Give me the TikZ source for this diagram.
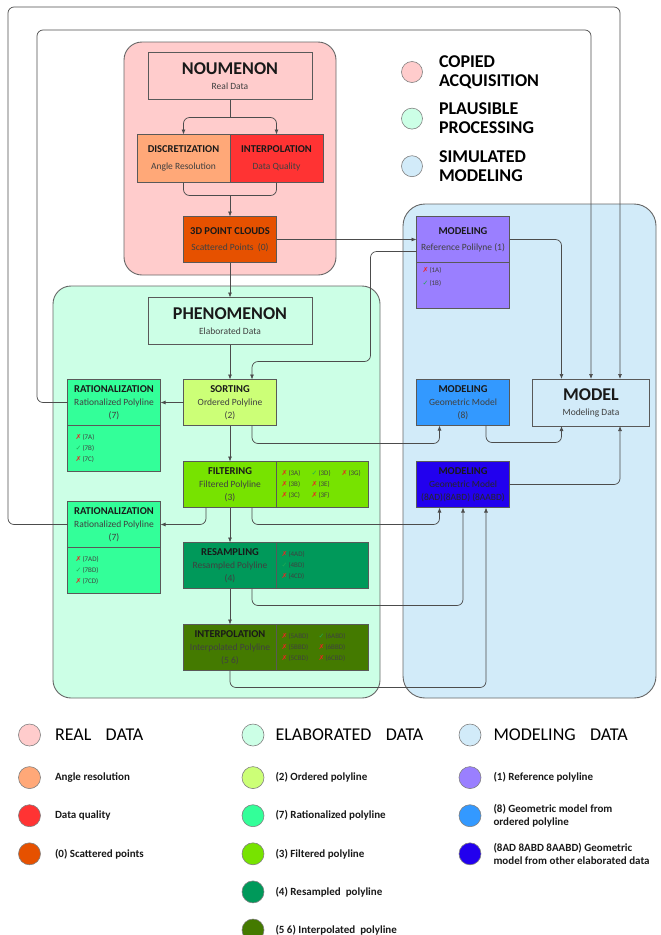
\documentclass[tikz,border=0pt]{standalone}
\usepackage{fontspec}
\setmainfont{Carlito}
\newfontfamily\symfont{DejaVu Sans}
\usepackage{tikz}
\usetikzlibrary{arrows.meta,positioning,calc}

\definecolor{realpink}{HTML}{FFCCCC}
\definecolor{elabmint}{HTML}{CCFFE6}
\definecolor{modblue}{HTML}{D2EBF9}
\definecolor{angleorange}{HTML}{FFA878}
\definecolor{qualityred}{HTML}{FF3333}
\definecolor{scatterorange}{HTML}{E65100}
\definecolor{ordergreen}{HTML}{CCFF77}
\definecolor{ratgreen}{HTML}{33FF99}
\definecolor{filtgreen}{HTML}{77E300}
\definecolor{resampgreen}{HTML}{00995A}
\definecolor{interpgreen}{HTML}{447A00}
\definecolor{refpurple}{HTML}{9A7FFF}
\definecolor{geoblue}{HTML}{3399FF}
\definecolor{otherblue}{HTML}{2200EE}
\definecolor{xred}{HTML}{EE2222}
\definecolor{ckgreen}{HTML}{22AA55}

\newcommand\ttl[1]{{\fontsize{10.5}{13}\selectfont\bfseries\color{black!90}#1}}
\newcommand\bigttl[1]{{\fontsize{18}{20}\selectfont\bfseries\color{black!90}#1}}
\newcommand\nok[1]{{\color{xred}\symfont\bfseries ✗}\,(#1)}
\newcommand\yes[1]{{\color{ckgreen}\symfont\bfseries ✓}\,(#1)}
\newcommand\cell[2][30pt]{\makebox[#1][l]{#2}}

\tikzset{
  zone/.style    ={draw=black!60,line width=0.9pt,rounded corners=18pt},
  stepbox/.style ={draw=black!65,line width=0.7pt,align=center,inner sep=0pt,outer sep=0pt,
                   minimum width=93pt,minimum height=46pt,font=\fontsize{9.5}{13}\selectfont,text=black!75},
  bigbox/.style  ={stepbox,minimum width=164pt,minimum height=47pt},
  listbox/.style ={draw=black!65,line width=0.7pt,align=left,inner sep=0pt,outer sep=0pt,
                   minimum height=46pt,font=\fontsize{7}{11}\selectfont,text=black!75},
  line/.style    ={draw=black!70,line width=0.7pt,rounded corners=6pt},
  arrow/.style   ={line,-{Latex[length=5pt,width=4pt]}},
  keydot/.style  ={circle,draw=black!50,line width=0.6pt,minimum size=21pt,inner sep=0pt},
  keyhead/.style ={inner sep=0pt,align=left,font=\fontsize{18}{19}\selectfont,text=black},
  keyitem/.style ={inner sep=0pt,align=left,font=\fontsize{11}{12.5}\selectfont\bfseries,text=black!90}
}

\begin{document}
\begin{tikzpicture}[x=1pt,y=-1pt]
  \useasboundingbox (0,0) rectangle (661,935);
  \node[zone,fill=realpink,minimum width=212pt,minimum height=233pt] (acqzone) at (230,158.5) {};
  \node[zone,fill=elabmint,minimum width=327pt,minimum height=412pt] (proczone) at (216.5,492) {};
  \node[zone,fill=modblue,minimum width=253pt,minimum height=494pt,rounded corners=22pt] (simzone) at (529.5,451) {};

  \node[bigbox,fill=realpink] (noumenon) at (230,76) {\bigttl{NOUMENON}\\[2pt]Real Data};
  \node[stepbox,fill=angleorange,minimum height=48pt,below left=35pt and 0pt of noumenon.south] (discret) {\ttl{DISCRETIZATION}\\[4pt]Angle Resolution};
  \node[stepbox,fill=qualityred,minimum height=48pt,right=0pt of discret] (interpA) {\ttl{INTERPOLATION}\\[4pt]Data Quality};
  \node[stepbox,fill=scatterorange,below=34pt of discret.south east] (clouds) {\ttl{3D POINT CLOUDS}\\[3pt]Scattered Points\ \ (0)};
  \node[bigbox,fill=elabmint,below=35pt of clouds] (phenom) {\bigttl{PHENOMENON}\\[2pt]Elaborated Data};
  \node[stepbox,fill=ordergreen,below=35pt of phenom] (sorting) {\ttl{SORTING}\\Ordered Polyline\\(2)};
  \node[stepbox,fill=ratgreen,left=23pt of sorting] (rationA) {\ttl{RATIONALIZATION}\\Rationalized Polyline\\(7)};
  \node[listbox,fill=ratgreen,minimum width=93pt,text width=77pt,below=0pt of rationA] (rationAlist) {\nok{7A}\\\yes{7B}\\\nok{7C}};
  \node[stepbox,fill=filtgreen,below=36pt of sorting] (filtering) {\ttl{FILTERING}\\Filtered Polyline\\(3)};
  \node[listbox,fill=filtgreen,minimum width=92pt,text width=82pt,right=0pt of filtering] (filtlist)
    {\cell{\nok{3A}}\cell{\yes{3D}}\nok{3G}\\\cell{\nok{3B}}\nok{3E}\\\cell{\nok{3C}}\nok{3F}};
  \node[stepbox,fill=ratgreen,below=30pt of rationAlist] (rationB) {\ttl{RATIONALIZATION}\\Rationalized Polyline\\(7)};
  \node[listbox,fill=ratgreen,minimum width=93pt,text width=77pt,below=0pt of rationB] (rationBlist) {\nok{7AD}\\\yes{7BD}\\\nok{7CD}};
  \node[stepbox,fill=resampgreen,below=35pt of filtering] (resampling) {\ttl{RESAMPLING}\\Resampled Polyline\\(4)};
  \node[listbox,fill=resampgreen,minimum width=92pt,text width=82pt,right=0pt of resampling] (resamplist) {\nok{4AD}\\\yes{4BD}\\\nok{4CD}};
  \node[stepbox,fill=interpgreen,below=36pt of resampling] (interpB) {\ttl{INTERPOLATION}\\Interpolated Polyline\\(5 6)};
  \node[listbox,fill=interpgreen,minimum width=92pt,text width=82pt,right=0pt of interpB] (interplist)
    {\cell[37pt]{\nok{5ABD}}\yes{6ABD}\\\cell[37pt]{\nok{5BBD}}\nok{6BBD}\\\cell[37pt]{\nok{5CBD}}\nok{6CBD}};

  \node[stepbox,fill=refpurple,right=140pt of clouds] (modref) {\ttl{MODELING}\\[3pt]Reference Polilyne (1)};
  \node[listbox,fill=refpurple,minimum width=93pt,below=0pt of modref] (modreflist) {\parbox[c][36pt][t]{81pt}{\nok{1A}\\[2pt]\yes{1B}}};
  \node[stepbox,fill=geoblue,right=140pt of sorting] (modgeo) {\ttl{MODELING}\\Geometric Model\\(8)};
  \node[stepbox,fill=otherblue,right=140pt of filtering,text=black!85] (modother) {\ttl{MODELING}\\Geometric Model\\(8AD)(8ABD) (8AABD)};
  \node[stepbox,fill=modblue,minimum width=117pt,minimum height=47pt,right=23pt of modgeo] (model) {\bigttl{MODEL}\\[2pt]Modeling Data};

  \coordinate (split) at ($(noumenon.south)+(0,18)$);
  \coordinate (ujoin) at ($(discret.south)!0.5!(interpA.south)+(0,13)$);
  \draw[line] (noumenon.south) -- (split);
  \draw[arrow] (split) -| (discret.north);
  \draw[arrow] (split) -| (interpA.north);
  \draw[line] (discret.south) |- (ujoin) -| (interpA.south);
  \draw[arrow] (ujoin) -- (clouds.north);
  \draw[arrow] (clouds.east) -- (clouds.east -| modref.west);
  \draw[arrow] (clouds) -- (phenom);
  \draw[arrow] (phenom) -- (sorting);
  \draw[arrow] ([yshift=-12pt]modref.west) -- ++(-46,0) |- ($(sorting.north)+(22,-18)$) -- ([xshift=22pt]sorting.north);
  \draw[arrow] (modref.east) -| ([xshift=-29.5pt]model.north);
  \draw[arrow] (sorting) -- (rationA);
  \draw[arrow] (rationA.west) -| (37,30) -| (model.north);
  \draw[arrow] (rationB.west) -| (8,7) -| ([xshift=29pt]model.north);
  \draw[arrow] (sorting) -- (filtering);
  \draw[arrow] ([xshift=22pt]sorting.south) -- ++(0,18) -| ([xshift=-23.5pt]modgeo.south);
  \draw[arrow] ([xshift=23pt]modgeo.south) -- ++(0,17) -| ([xshift=-29.5pt]model.south);
  \draw[arrow] ([xshift=-24pt]filtering.south) |- (rationB.east);
  \draw[arrow] ([xshift=22pt]filtering.south) -- ++(0,17) -| ([xshift=-23.5pt]modother.south);
  \draw[arrow] (filtering) -- (resampling);
  \draw[arrow] ([xshift=22pt]resampling.south) -- ++(0,17) -| (modother.south);
  \draw[arrow] (resampling) -- (interpB);
  \draw[arrow] (interpB.south) -- ++(0,17) -| ([xshift=23pt]modother.south);
  \draw[arrow] (modother.east) -| ([xshift=29pt]model.south);

  \node[keydot,fill=realpink] (keyacq) at (412,72) {};
  \node[keydot,fill=elabmint,below=25pt of keyacq] (keyproc) {};
  \node[keydot,fill=modblue,below=26pt of keyproc] (keysim) {};
  \node[keyhead,font=\fontsize{18}{19}\selectfont\bfseries,right=16pt of keyacq] (txtacq) {COPIED\\ACQUISITION};
  \node[keyhead,font=\fontsize{18}{19}\selectfont\bfseries,right=16pt of keyproc] (txtproc) {PLAUSIBLE\\PROCESSING};
  \node[keyhead,font=\fontsize{18}{19}\selectfont\bfseries,right=16pt of keysim] (txtsim) {SIMULATED\\MODELING};

  \node[keydot,minimum size=22pt,fill=realpink] (keyreal) at (29.5,735) {};
  \node[keydot,minimum size=22pt,fill=angleorange,below=20pt of keyreal] (keyangle) {};
  \node[keydot,minimum size=22pt,fill=qualityred,below=15.5pt of keyangle] (keyquality) {};
  \node[keydot,minimum size=22pt,fill=scatterorange,below=15.5pt of keyquality] (keyscatter) {};
  \node[keyhead,right=14pt of keyreal] (txtreal) {REAL\hspace{0.8em}DATA};
  \node[keyitem,right=14pt of keyangle] (txtangle) {Angle resolution};
  \node[keyitem,right=14pt of keyquality] (txtquality) {Data quality};
  \node[keyitem,right=14pt of keyscatter] (txtscatter) {(0) Scattered points};

  \node[keydot,minimum size=22pt,fill=elabmint] (keyelab) at (253,735) {};
  \node[keydot,minimum size=22pt,fill=ordergreen,below=20pt of keyelab] (keyorder) {};
  \node[keydot,minimum size=22pt,fill=ratgreen,below=15.5pt of keyorder] (keyrat) {};
  \node[keydot,minimum size=22pt,fill=filtgreen,below=15.5pt of keyrat] (keyfilt) {};
  \node[keydot,minimum size=22pt,fill=resampgreen,below=15.5pt of keyfilt] (keyresamp) {};
  \node[keydot,minimum size=22pt,fill=interpgreen,below=15.5pt of keyresamp] (keyinterp) {};
  \node[keyhead,right=11pt of keyelab] (txtelab) {ELABORATED\hspace{0.8em}DATA};
  \node[keyitem,right=11pt of keyorder] (txtorder) {(2) Ordered polyline};
  \node[keyitem,right=11pt of keyrat] (txtrat) {(7) Rationalized polyline};
  \node[keyitem,right=11pt of keyfilt] (txtfilt) {(3) Filtered polyline};
  \node[keyitem,right=11pt of keyresamp] (txtresamp) {(4) Resampled\ \ polyline};
  \node[keyitem,right=11pt of keyinterp] (txtinterp) {(5 6) Interpolated\ \ polyline};

  \node[keydot,minimum size=22pt,fill=modblue] (keymod) at (470,735) {};
  \node[keydot,minimum size=22pt,fill=refpurple,below=20pt of keymod] (keyref) {};
  \node[keydot,minimum size=22pt,fill=geoblue,below=15.5pt of keyref] (keygeo) {};
  \node[keydot,minimum size=22pt,fill=otherblue,below=15.5pt of keygeo] (keyother) {};
  \node[keyhead,right=12pt of keymod] (txtmod) {MODELING\hspace{0.8em}DATA};
  \node[keyitem,right=12pt of keyref] (txtref) {(1) Reference polyline};
  \node[keyitem,right=12pt of keygeo] (txtgeo) {(8) Geometric model from\\ordered polyline};
  \node[keyitem,right=12pt of keyother] (txtother) {(8AD 8ABD 8AABD) Geometric\\model from other elaborated data};
\end{tikzpicture}
\end{document}
